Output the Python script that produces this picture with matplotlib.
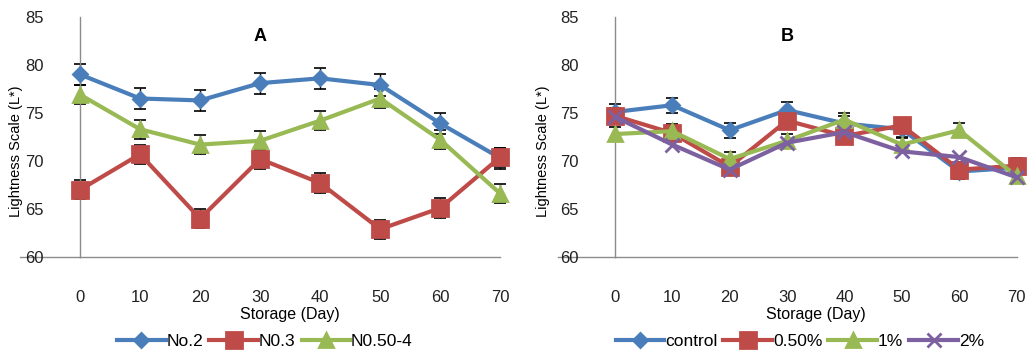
import matplotlib
matplotlib.use("Agg")
import matplotlib.pyplot as plt

plt.rcParams["font.family"] = ["Liberation Sans", "DejaVu Sans"]

days = [0, 10, 20, 30, 40, 50, 60, 70]

# Panel A
a_labels = ["No.2", "N0.3", "N0.50-4"]
a_no2 = [79.0, 76.5, 76.3, 78.1, 78.6, 77.9, 73.9, 70.3]
a_no3 = [67.0, 70.7, 64.0, 70.2, 67.7, 62.9, 65.1, 70.4]
a_no50 = [76.9, 73.3, 71.7, 72.1, 74.2, 76.5, 72.2, 66.6]
a_err = [1.1, 1.0, 1.0]

# Panel B
b_labels = ["control", "0.50%", "1%", "2%"]
b_control = [75.1, 75.8, 73.2, 75.3, 73.9, 73.3, 68.9, 69.3]
b_050 = [74.7, 72.9, 69.4, 74.2, 72.6, 73.7, 69.1, 69.5]
b_1 = [72.8, 73.1, 70.2, 72.1, 74.3, 71.7, 73.2, 68.4]
b_2 = [74.6, 71.7, 69.1, 71.9, 73.0, 71.0, 70.4, 68.3]
b_err = [0.8, 0.8, 0.7, 0.5]

colors = ["#4A7EBB", "#BE4B48", "#98B954", "#7D60A0"]
markers = ["D", "s", "^", "x"]
msizes = [7.5, 11.5, 10, 10]


def style_axes(ax, title):
    ax.set_xlim(0, 70)
    ax.set_ylim(60, 85)
    ax.set_xticks(days)
    ax.set_yticks(range(60, 86, 5))
    for s in ["top", "right"]:
        ax.spines[s].set_visible(False)
    for s in ["left", "bottom"]:
        ax.spines[s].set_color("#8c8c8c")
        ax.spines[s].set_linewidth(1.0)
    # horizontal axis line running past the vertical axis, as in the original
    ax.plot([-10, 0], [60, 60], color="#8c8c8c", lw=1.0, clip_on=False, zorder=1)
    ax.tick_params(axis="both", length=0, labelsize=12, colors="#222222")
    ax.tick_params(axis="x", pad=24)
    ax.tick_params(axis="y", pad=26)
    ax.set_xlabel("Storage (Day)", fontsize=11.5, labelpad=1)
    ax.set_ylabel("Lightness Scale (L*)", fontsize=10.5)
    ax.text(30, 83.0, title, fontsize=13, fontweight="bold", ha="center", va="center")


fig = plt.figure(figsize=(10.3, 3.58), dpi=100)
axA = fig.add_axes([0.0777, 0.282, 0.408, 0.671])
axB = fig.add_axes([0.597, 0.282, 0.390, 0.671])

for i, ys in enumerate([a_no2, a_no3, a_no50]):
    axA.errorbar(days, ys, yerr=a_err[i], fmt="none", ecolor="black",
                 elinewidth=1.0, capsize=4, capthick=1.2, zorder=2, clip_on=False)
    axA.plot(days, ys, color=colors[i], lw=3, marker=markers[i], ms=msizes[i],
             mew=2, label=a_labels[i], zorder=3, clip_on=False)

for i, ys in enumerate([b_control, b_050, b_1, b_2]):
    if i < 3:
        axB.errorbar(days, ys, yerr=b_err[i], fmt="none", ecolor="black",
                     elinewidth=1.0, capsize=4, capthick=1.2, zorder=2, clip_on=False)
    axB.plot(days, ys, color=colors[i], lw=3, marker=markers[i], ms=msizes[i],
             mew=2, label=b_labels[i], zorder=3, clip_on=False)

style_axes(axA, "A")
style_axes(axB, "B")
axA.yaxis.set_label_coords(-0.135, 0.44)
axB.yaxis.set_label_coords(-0.162, 0.44)

leg_kw = dict(loc="upper center", frameon=False, fontsize=12.5, handlelength=2.8,
              handletextpad=0.05, columnspacing=0.35, borderaxespad=0, borderpad=0)
axA.legend(bbox_to_anchor=(0.44, -0.32), ncol=3, **leg_kw)
axB.legend(bbox_to_anchor=(0.46, -0.32), ncol=4, **leg_kw)

fig.savefig("out.png", dpi=100)
